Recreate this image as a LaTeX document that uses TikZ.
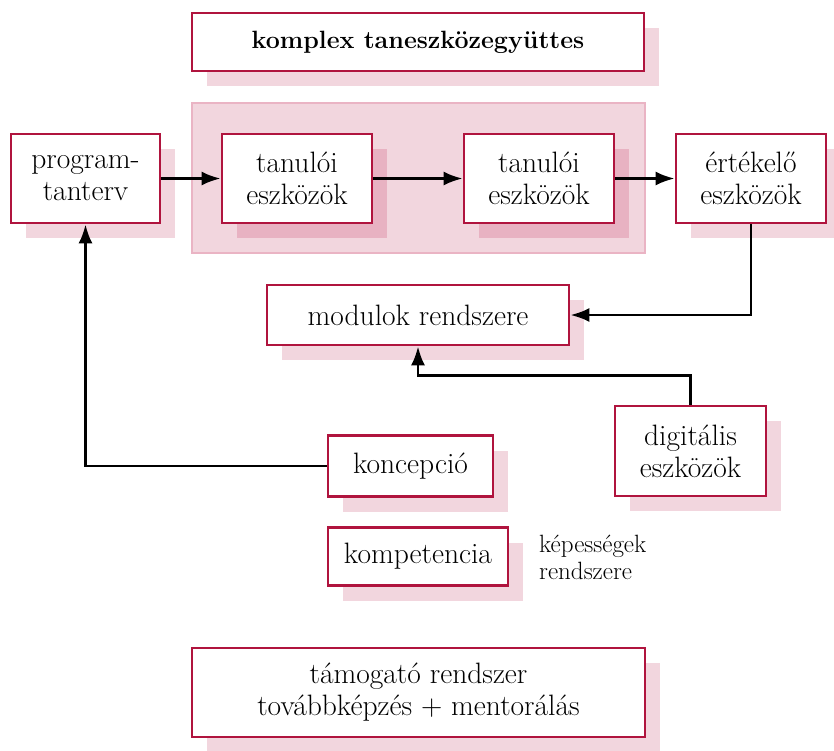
\documentclass[tikz,border=0pt]{standalone}
\usepackage{fontspec}
\usetikzlibrary{arrows.meta,shadows}
\definecolor{frame}{RGB}{176,20,62}
\definecolor{shade}{RGB}{242,214,222}
\definecolor{shadedark}{RGB}{232,178,194}
\definecolor{grouprim}{RGB}{234,180,196}
\begin{document}
\begin{tikzpicture}[x=1pt,y=-1pt,
  box/.style={draw=frame, line width=2.7pt, fill=white, align=center,
    inner sep=0pt, font=\fontsize{29.5}{32}\selectfont,
    drop shadow={shadow xshift=15pt, shadow yshift=-15pt, fill=shade, opacity=1}},
  innerbox/.style={box,
    drop shadow={shadow xshift=15pt, shadow yshift=-15pt, fill=shadedark, opacity=1}},
  conn/.style={line width=2.8pt, -{Latex[length=19pt,width=14pt]}}]
\useasboundingbox (0,0) rectangle (834,750);

% group of the two learner tool boxes
\node[fill=shade, draw=grouprim, line width=2pt, minimum width=453pt,
  minimum height=150pt, inner sep=0pt] (grp) at (418,178) {};

\node[box, minimum width=452pt, minimum height=58pt,
  font=\fontsize{25}{29}\selectfont\bfseries] (top) at (418,42) {komplex taneszközegyüttes};

\node[box, minimum width=149pt, minimum height=89pt] (prog) at (85.5,178.5) {program-\\tanterv};
\node[innerbox, minimum width=150pt, minimum height=89pt] (tan1) at (297,178.5) {tanulói\\eszközök};
\node[innerbox, minimum width=150pt, minimum height=89pt] (tan2) at (539,178.5) {tanulói\\eszközök};
\node[box, minimum width=150pt, minimum height=89pt] (ert) at (751,178.5) {értékelő\\eszközök};

\node[box, minimum width=302pt, minimum height=60pt] (mod) at (418,315) {modulok rendszere};
\node[box, minimum width=165pt, minimum height=61pt] (konc) at (410.5,466) {koncepció};
\node[box, minimum width=151pt, minimum height=90pt] (dig) at (690.5,451) {digitális\\eszközök};
\node[box, minimum width=180pt, minimum height=58pt] (komp) at (418,556.5) {kompetencia};
\node[anchor=west, align=left, inner sep=0pt, font=\fontsize{25}{27}\selectfont] (kep) at (539,557) {képességek\\rendszere};

\node[box, minimum width=453pt, minimum height=89pt] (tam) at (418.5,692.5) {támogató rendszer\\továbbképzés + mentorálás};

% connectors
\draw[conn] (prog) -- (tan1);
\draw[conn] (tan1) -- (tan2);
\draw[conn] (tan2) -- (ert);
\draw[conn] (ert.south) |- (mod.east);
\draw[conn] (dig.north) -- ++(0,-29) -| (mod.south);
\draw[conn] (konc.west) -| (prog.south);
\end{tikzpicture}
\end{document}
